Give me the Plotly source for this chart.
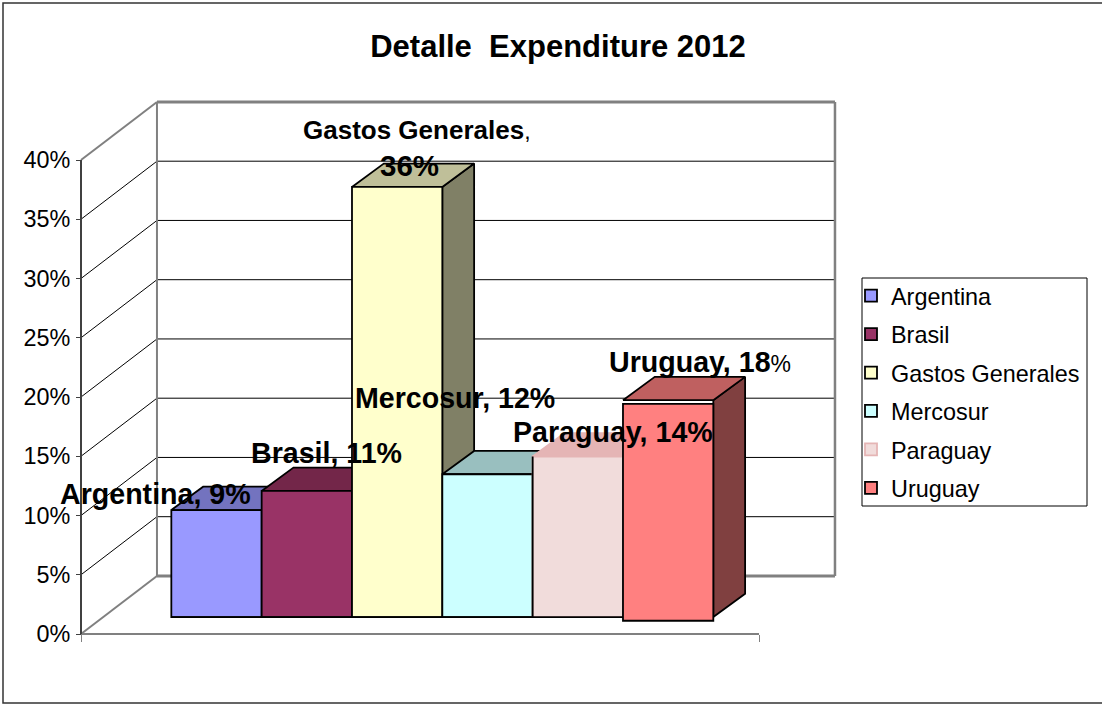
import plotly.graph_objects as go

# ---- data -------------------------------------------------------------
categories = ["Argentina", "Brasil", "Gastos Generales", "Mercosur", "Paraguay", "Uruguay"]
values = [9.03, 10.64, 36.3, 12.05, 13.55, 18.3]
pct_labels = ["9%", "11%", "36%", "12%", "14%", "18%"]
y_ticks = [0, 5, 10, 15, 20, 25, 30, 35, 40]
front_colors = ["#9999FF", "#993366", "#FFFFCC", "#CCFFFF", "#F1DCDB", "#FF8080"]
top_colors = ["#7373BF", "#732649", "#BFBF99", "#99BFBF", "#E5B5B5", "#BF6060"]
side_colors = ["#4D4D80", "#4D1A33", "#808066", "#668080", "#B09090", "#804040"]
edge_colors = ["#000000", "#000000", "#000000", "#000000", "#E5B5B5", "#000000"]

# ---- style / pseudo-3D geometry (in axis units) ------------------------
W, H = 1102, 704
M_L, M_B = 70, 54     # plot area starts a little beyond the drawn axes
ORIGIN_X, ORIGIN_Y = 81, 634   # pixel position of the axes' origin
PX_X = 90.33      # px per bar width
PX_Y = 11.85      # px per percentage point
FLOOR_LEN = 7.506
WALL_DX, WALL_DY = 0.841, 4.9
BAR_DX, BAR_DY = 0.352, 1.97
BAR_START, BAR_BASE = 1.0, 1.43
FRONT_SHIFT = [0, 0, 0, 0, 0, 0.31]
LABEL_DX = [-0.67, 0.22, 0.22, -0.365, 0.39, 0.354]
LABEL_DY = [1.35, 3.2, 3.3, 6.43, 2.03, 3.2]
EDGE_W = 1.8
FONT = "Liberation Sans, Arial, sans-serif"
GREY = "#808080"


def paper_x(px):
    return (px - M_L) / (W - M_L)


def paper_y(px):
    return (H - M_B - px) / (H - M_B)


fig = go.Figure()


def wall(xs, ys, color, width, z=0):
    fig.add_trace(go.Scatter(x=xs, y=ys, mode="lines", line=dict(color=color, width=width),
                             showlegend=False, hoverinfo="skip", zorder=z))


# gridlines on side and back walls
gx, gy = [], []
for t in y_ticks[1:-1]:
    gx += [0, WALL_DX, WALL_DX + FLOOR_LEN, None]
    gy += [t, t + WALL_DY, t + WALL_DY, None]
wall(gx, gy, "#000000", 1)
# wall outlines
top = y_ticks[-1]
wall([0, WALL_DX], [top, top + WALL_DY], GREY, 2)
wall([WALL_DX, WALL_DX + FLOOR_LEN], [top + WALL_DY, top + WALL_DY], GREY, 3)
wall([WALL_DX, WALL_DX], [WALL_DY, top + WALL_DY], GREY, 2)
wall([WALL_DX + FLOOR_LEN] * 2, [WALL_DY, top + WALL_DY], GREY, 2.5)
wall([0, WALL_DX], [0, WALL_DY], GREY, 2)
wall([WALL_DX, WALL_DX + FLOOR_LEN], [WALL_DY, WALL_DY], GREY, 3)
# axis lines
wall([0, FLOOR_LEN], [0, 0], GREY, 2)
wall([0, 0], [0, top], "#404040", 2)

# bars: side and top faces, then the front face (a real bar)
for i, (name, v) in enumerate(zip(categories, values)):
    x0, x1 = BAR_START + i, BAR_START + i + 1
    b, t = BAR_BASE, BAR_BASE + v
    common = dict(mode="lines", fill="toself", showlegend=False, hoverinfo="skip", legendgroup=name)
    fig.add_trace(go.Scatter(
        x=[x1, x1 + BAR_DX, x1 + BAR_DX, x1, x1],
        y=[b, b + BAR_DY, t + BAR_DY, t, b],
        fillcolor=side_colors[i], line=dict(color="#000000", width=EDGE_W),
        zorder=3 * i + 1, **common))
    fig.add_trace(go.Scatter(
        x=[x0, x0 + BAR_DX, x1 + BAR_DX, x1, x0],
        y=[t, t + BAR_DY, t + BAR_DY, t, t],
        fillcolor=top_colors[i], line=dict(color=edge_colors[i], width=EDGE_W),
        zorder=3 * i + 2, **common))
    fig.add_trace(go.Bar(
        x=[x0 + 0.5], y=[v], base=[b - FRONT_SHIFT[i]], width=1, name=name, legendgroup=name,
        marker=dict(color=front_colors[i], line=dict(color=edge_colors[i], width=EDGE_W)),
        hovertemplate=name + ": " + pct_labels[i] + "<extra></extra>", zorder=3 * i + 3))

# baseline under the front faces and the dark edge left of the pale Paraguay bar
wall([BAR_START, BAR_START + 5], [BAR_BASE, BAR_BASE], "#000000", EDGE_W, z=16)
wall([BAR_START + 4] * 2, [BAR_BASE, BAR_BASE + values[4]], "#000000", EDGE_W, z=16)

# data labels
BIG = 28.6
small = '<span style="font-size:23px;font-weight:normal">%s</span>'
for i, name in enumerate(categories):
    pct = pct_labels[i]
    lx = BAR_START + i + 0.5 + LABEL_DX[i]
    ly = BAR_BASE + values[i] + LABEL_DY[i]
    font = dict(family=FONT, size=BIG, color="#000000")
    if name == "Gastos Generales":
        fig.add_annotation(x=lx, y=ly + 1.48, text="<b>" + name + "</b>" + small % ",", showarrow=False,
                           xanchor="center", yanchor="middle", font=dict(family=FONT, size=26, color="#000000"))
        fig.add_annotation(x=lx - 0.08, y=ly - 1.48, text="<b>" + pct + "</b>", showarrow=False,
                           xanchor="center", yanchor="middle", font=dict(family=FONT, size=29.5, color="#000000"))
        continue
    if name == "Uruguay":
        txt = "<b>" + name + ", " + pct[:-1] + "</b>" + small % "%"
    else:
        txt = "<b>" + name + ", " + pct + "</b>"
    fig.add_annotation(x=lx, y=ly, text=txt, showarrow=False, xanchor="center", yanchor="middle", font=font)

# outer frame and legend box
fig.add_shape(type="rect", xref="paper", yref="paper", layer="below",
              x0=paper_x(3), x1=paper_x(W + 5), y0=paper_y(703), y1=paper_y(3),
              line=dict(color="#333333", width=1.5), fillcolor="rgba(0,0,0,0)")
fig.add_shape(type="rect", xref="paper", yref="paper", layer="below",
              x0=paper_x(862), x1=paper_x(1087), y0=paper_y(506), y1=paper_y(278),
              line=dict(color="#000000", width=1), fillcolor="#FFFFFF")

fig.update_layout(
    width=W, height=H, autosize=False,
    margin=dict(l=M_L, r=0, t=0, b=M_B, pad=0),
    paper_bgcolor="#FFFFFF", plot_bgcolor="rgba(0,0,0,0)",
    barmode="overlay",
    font=dict(family=FONT, color="#000000"),
    title=dict(text="<b>Detalle\u00a0\u00a0Expenditure 2012</b>", x=paper_x(558), xref="paper", xanchor="center",
               y=1 - 46 / H, yref="container", yanchor="middle",
               font=dict(family=FONT, size=31, color="#000000")),
    legend=dict(x=paper_x(851), y=paper_y(274), xanchor="left", yanchor="top",
                bgcolor="rgba(0,0,0,0)", borderwidth=0, traceorder="grouped", tracegroupgap=5,
                font=dict(family=FONT, size=23.4, color="#000000"), itemwidth=30),
    xaxis=dict(range=[(M_L - ORIGIN_X) / PX_X, (W - ORIGIN_X) / PX_X],
               anchor="free", position=paper_y(ORIGIN_Y),
               showgrid=False, zeroline=False, showline=False,
               tickvals=[0, FLOOR_LEN], ticks="outside", ticklen=7, tickwidth=1, tickcolor=GREY,
               showticklabels=False, fixedrange=True),
    yaxis=dict(range=[(ORIGIN_Y - (H - M_B)) / PX_Y, ORIGIN_Y / PX_Y],
               anchor="free", position=paper_x(ORIGIN_X),
               showgrid=False, zeroline=False, showline=False,
               tickvals=y_ticks, ticktext=[f"{t}%" for t in y_ticks], ticks="outside",
               ticklen=5, tickwidth=1, tickcolor="#404040", ticklabelstandoff=1,
               tickfont=dict(family=FONT, size=23.4, color="#000000"), fixedrange=True),
)

fig.write_html("out.html", config={"displayModeBar": False},
               post_script="document.body.style.margin='0';document.documentElement.style.overflow='hidden';")
